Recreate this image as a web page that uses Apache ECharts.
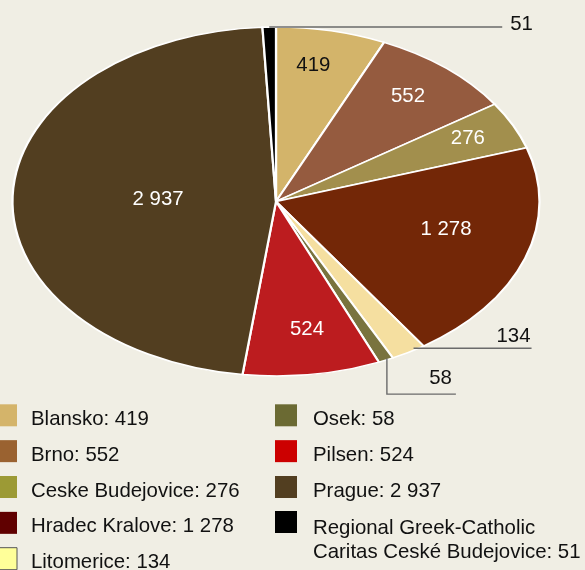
<!DOCTYPE html>
<html><head><meta charset="utf-8">
<script src="https://cdn.jsdelivr.net/npm/echarts@6/dist/echarts.min.js"></script>
<style>html,body{margin:0;padding:0;background:#f0eee4;}#chart{width:585px;height:570px;}</style>
</head><body><div id="chart"></div>
<script>
// ---- data ----
const categories = ['Blansko', 'Brno', 'Ceske Budejovice', 'Hradec Kralove', 'Litomerice', 'Osek', 'Pilsen', 'Prague', 'Regional Greek-Catholic Caritas Ceské Budejovice'];
const values = [419, 552, 276, 1278, 134, 58, 524, 2937, 51];
const sliceColors = ['#d3b46a', '#955b3f', '#a28f4d', '#732707', '#f5dfa0', '#79733e', '#bc1c1f', '#523e20', '#000000'];
const legendColors = ['#d4b46a', '#9a6230', '#9c9a35', '#600000', '#ffff99', '#6b6a33', '#cc0000', '#523e20', '#000000'];

// ---- layout / style ----
const FONT = '"Liberation Sans", Arial, Helvetica, sans-serif';
const FS = 20.4;
const CX = 276, CY = 201.5, RY = 174.5, RX = 263.5;
const total = values.reduce((a, b) => a + b, 0);
const starts = [];
{ let acc = 0; values.forEach(v => { starts.push(acc); acc += v; }); }

// label placement: inside (radius fraction f, angle tweak da in degrees) or outside with a leader
const labelPlace = {
  'Blansko': { f: 0.80, da: -1.9, color: '#111' },
  'Brno': { f: 0.79, da: -0.8 },
  'Ceske Budejovice': { f: 0.815, da: -0.8 },
  'Hradec Kralove': { f: 0.663, da: -5.7 },
  'Litomerice': { out: 'under', inset: 5, lift: 4, len: 118 },
  'Osek': { out: 'elbow', drop: 34, run: 69 },
  'Pilsen': { f: 0.734, da: -1.4 },
  'Prague': { f: 0.448, da: 0.4 },
  'Regional Greek-Catholic Caritas Ceské Budejovice': { out: 'side', len: 233 }
};

function fmt(v) { return String(v).replace(/\B(?=(\d{3})+(?!\d))/g, ' '); }
function wrapLines(s) {
  if (s.length <= 30) return [s];
  const i = s.lastIndexOf(' ', 24);
  return [s.slice(0, i), s.slice(i + 1)];
}
function pt(deg, f) {
  const t = deg * Math.PI / 180;
  return [CX + f * RX * Math.sin(t), CY - f * RY * Math.cos(t)];
}

function makeRenderItem(i) {
  return function (params, api) {
    const v = api.value(0);
    const d0 = starts[i] / total * 360, d1 = (starts[i] + v) / total * 360;
    const mid = (d0 + d1) / 2;
    const children = [{
      type: 'sector',
      shape: { cx: CX, cy: CY, r0: 0, r: RY,
        startAngle: (d0 - 90) * Math.PI / 180, endAngle: (d1 - 90) * Math.PI / 180, clockwise: true },
      scaleX: RX / RY, originX: CX, originY: CY,
      style: { fill: sliceColors[i], stroke: '#ffffff', lineWidth: 1.5, strokeNoScale: true },
      z2: 0
    }];
    const p = labelPlace[categories[i]];
    const txt = fmt(v);
    const font = FS + 'px ' + FONT;
    if (!p.out) {
      const [x, y] = pt(mid + p.da, p.f);
      children.push({ type: 'text', x: x, y: y + 1, z2: 20,
        style: { text: txt, fill: p.color || '#ffffff', font: font, align: 'center', verticalAlign: 'middle' } });
    } else {
      const [ax, ay] = pt(mid, 1);
      let pts, tx, ty, al;
      if (p.out === 'under') {
        const ly = ay - p.lift;
        pts = [[ax + p.inset, ly], [ax + p.inset + p.len, ly]];
        tx = ax + p.inset + p.len - 1; ty = ly - 12; al = 'right';
      } else if (p.out === 'elbow') {
        const ly = ay + p.drop;
        pts = [[ax + 1, ay - 1.5], [ax + 1, ly], [ax + 1 + p.run, ly]];
        tx = ax + 1 + p.run - 4; ty = ly - 15.5; al = 'right';
      } else {
        pts = [[ax, ay], [ax + p.len, ay]];
        tx = ax + p.len + 8; ty = ay - 2.7; al = 'left';
      }
      children.push({ type: 'polyline', z2: 10, shape: { points: pts },
        style: { stroke: '#6a6a6a', lineWidth: 1.4, fill: null } });
      children.push({ type: 'text', x: tx, y: ty, z2: 20,
        style: { text: txt, fill: '#111111', font: font, align: al, verticalAlign: 'middle' } });
    }
    return { type: 'group', children: children };
  };
}

const series = categories.map((name, i) => ({
  type: 'custom',
  name: name,
  coordinateSystem: 'none',
  silent: true,
  animation: false,
  itemStyle: { color: sliceColors[i] },
  data: [[values[i]]],
  renderItem: makeRenderItem(i)
}));

function legendItem(i) {
  const it = { name: categories[i], itemStyle: { color: legendColors[i], borderWidth: 0 } };
  if (categories[i] === 'Litomerice') it.itemStyle = { color: legendColors[i], borderColor: '#555555', borderWidth: 1 };
  return it;
}
function legendText(name) {
  const lines = wrapLines(name + ': ' + fmt(values[categories.indexOf(name)]));
  return lines.map(l => '{t|' + l + '}').join('\n');
}
function legendCfg(idx, left, top, lineHeight, pad, gap) {
  return {
    orient: 'vertical', icon: 'rect', itemWidth: 22, itemHeight: 22, itemGap: gap,
    padding: 0, selectedMode: false, left: left, top: top, height: 300,
    formatter: legendText,
    textStyle: {
      fontFamily: FONT, fontSize: FS, color: '#111111', lineHeight: lineHeight, padding: pad,
      rich: { t: { fontFamily: FONT, fontSize: FS, color: '#111111', lineHeight: lineHeight } }
    },
    data: idx.map(legendItem)
  };
}

const chart = echarts.init(document.getElementById('chart'), null, { renderer: 'canvas' });
chart.setOption({
  backgroundColor: '#f0eee4',
  animation: false,
  legend: [
    legendCfg([0, 1, 2, 3, 4], -5.5, 400.3, 22, [8, 0, 0, 9], 5.85),
    legendCfg([5, 6, 7], 275, 400.3, 22, [8, 0, 0, 11], 5.85),
    legendCfg([8], 275, 479.5, 24, [37, 0, 0, 11], 5.85)
  ],
  series: series
});
</script>
</body></html>
